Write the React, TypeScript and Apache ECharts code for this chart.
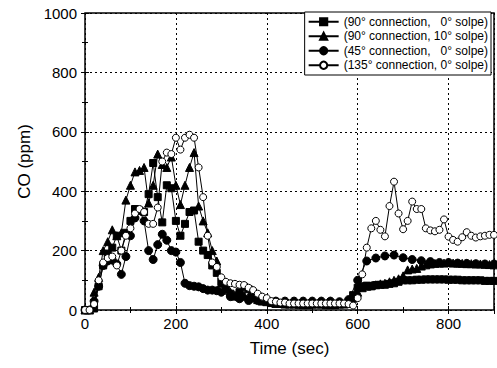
import React, { useEffect, useRef } from "react";
import * as echarts from "echarts";

const seriesNames = [
  "(90° connection, \u00a0 0° solpe)",
  "(90° connection, 10° solpe)",
  "(45° connection, \u00a0 0° solpe)",
  "(135° connection, 0° solpe)",
];

// time axis (sec), 10 s step
const times10 = Array.from({ length: 91 }, (_, i) => i * 10);

const sq90_0 = [
  0, 0, 5, 80, 150, 190, 210, 250, 200, 260,
  300, 340, 335, 330, 390, 495, 380, 295, 420, 410,
  300, 250, 290, 330, 335, 230, 200, 185, 150, 125,
  95, 70, 55, 45, 60, 78, 70, 55, 45, 35,
  30, 25, 25, 22, 20, 20, 20, 18, 18, 20,
  20, 20, 20, 20, 18, 18, 20, 20, 22, 50,
  75, 80, 82, 80, 84, 85, 85, 88, 90, 95,
  100, 100, 100, 102, 102, 103, 103, 103, 103, 103,
  102, 102, 102, 100, 100, 100, 100, 100, 98, 98,
  98,
];

const tri90_10 = [
  0, 0, 60, 110, 200, 230, 270, 250, 260, 370,
  420, 465, 470, 480, 360, 420, 525, 490, 480, 515,
  420, 355, 420, 480, 530, 350, 300, 260, 200, 165,
  90, 70, 60, 50, 45, 50, 45, 40, 35, 30,
  28, 25, 22, 22, 20, 20, 20, 20, 18, 18,
  20, 20, 20, 18, 18, 18, 20, 20, 22, 40,
  60, 75, 80, 82, 85, 88, 90, 95, 100, 105,
  115, 135, 138, 140, 148, 152, 155, 157, 158, 158,
  160, 158, 158, 157, 156, 156, 155, 155, 154, 153,
  152,
];

const times45 = [
  0, 10, 20, 30, 40, 50, 60, 70, 80, 90,
  100, 110, 120, 130, 140, 150, 160, 170, 180, 190,
  200, 210, 220, 230, 240, 250, 260, 270, 280, 290,
  300, 320, 340, 360, 380, 400, 420, 440, 460, 480,
  500, 520, 540, 560, 580, 600, 620, 640, 660, 680,
  700, 720, 740, 760, 780, 800, 820, 840, 860, 880,
  900,
];
const circ45_0 = [
  0, 0, 30, 80, 150, 165, 168, 155, 120, 180,
  250, 310, 335, 300, 200, 170, 220, 255, 235, 200,
  195, 160, 90, 82, 80, 78, 72, 67, 67, 65,
  60, 45, 38, 32, 32, 32, 30, 30, 30, 30,
  30, 30, 30, 28, 35, 100, 165, 175, 182, 185,
  176, 170, 166, 163, 160, 160, 158, 157, 156, 155,
  155,
];

const open135_0 = [
  0, 0, 20, 100, 160, 175, 180, 150, 200, 250,
  275, 325, 340, 330, 290, 290, 345, 500, 530, 525,
  580, 540, 580, 590, 580, 480, 380, 250, 160, 145,
  110, 95, 90, 88, 85, 84, 75, 67, 55, 45,
  40, 30, 28, 25, 25, 22, 22, 22, 22, 22,
  22, 22, 22, 22, 22, 22, 22, 22, 20, 15,
  40, 120, 210, 275, 300, 270, 248, 350, 432, 325,
  272, 300, 365, 340, 340, 275, 268, 265, 270, 305,
  247, 236, 230, 245, 262, 250, 244, 248, 250, 253,
  253,
];

const xTicksMax = 900;
const yTicksMax = 1000;

const pairs = (t: number[], v: number[]) => v.map((y, i) => [t[i], y]);

export default function App() {
  const ref = useRef<HTMLDivElement>(null);
  useEffect(() => {
    if (!ref.current) return;
    const chart = echarts.init(ref.current, null, { renderer: "svg" });
    const font = "'Liberation Sans', Arial, sans-serif";
    const common = {
      type: "line" as const,
      lineStyle: { color: "#000", width: 1 },
      itemStyle: { color: "#000", borderColor: "#000", borderWidth: 1 },
      showSymbol: true,
      emphasis: { disabled: true },
    };
    const tick = { show: true, inside: true, length: 4, lineStyle: { color: "#000" } };
    const minor = { show: true, splitNumber: 2, length: 3, lineStyle: { color: "#000" } };
    chart.setOption({
      animation: false,
      backgroundColor: "#fff",
      textStyle: { fontFamily: font },
      grid: {
        left: 85,
        right: 3,
        top: 13,
        bottom: 58,
        show: true,
        borderColor: "#000",
        borderWidth: 1.5,
        backgroundColor: "transparent",
      },
      legend: {
        orient: "vertical",
        right: 6,
        top: 12,
        padding: [3, 3, 3, 3],
        itemGap: 1,
        itemWidth: 30,
        itemHeight: 9,
        borderColor: "#000",
        borderWidth: 1,
        backgroundColor: "#fff",
        textStyle: { fontSize: 12, lineHeight: 13.5, color: "#000", fontFamily: font },
        data: seriesNames,
      },
      xAxis: [
        {
          type: "value",
          min: 0,
          max: xTicksMax,
          interval: 200,
          name: "Time (sec)",
          nameLocation: "middle",
          nameGap: 30,
          nameTextStyle: { fontSize: 17, color: "#000", fontFamily: font },
          axisLine: { show: false },
          axisTick: tick,
          minorTick: minor,
          axisLabel: { fontSize: 15, color: "#000", showMaxLabel: false, margin: 6 },
          splitLine: { show: true, lineStyle: { color: "#000", type: [2, 3], width: 1 } },
        },
        {
          type: "value",
          position: "top",
          min: 0,
          max: xTicksMax,
          interval: 200,
          axisLine: { show: false },
          axisTick: tick,
          minorTick: minor,
          axisLabel: { show: false },
          splitLine: { show: false },
        },
      ],
      yAxis: [
        {
          type: "value",
          min: 0,
          max: yTicksMax,
          interval: 200,
          name: "CO (ppm)",
          nameLocation: "middle",
          nameGap: 43,
          nameRotate: 90,
          nameTextStyle: { fontSize: 17, color: "#000", fontFamily: font },
          axisLine: { show: false },
          axisTick: tick,
          minorTick: minor,
          axisLabel: { fontSize: 15, color: "#000", margin: 8, formatter: (v: number) => String(v) },
          splitLine: { show: true, lineStyle: { color: "#000", type: [2, 3], width: 1 } },
        },
        {
          type: "value",
          position: "right",
          min: 0,
          max: yTicksMax,
          interval: 200,
          axisLine: { show: false },
          axisTick: tick,
          minorTick: minor,
          axisLabel: { show: false },
          splitLine: { show: false },
        },
      ],
      series: [
        { ...common, name: seriesNames[0], symbol: "rect", symbolSize: 7, data: pairs(times10, sq90_0) },
        { ...common, name: seriesNames[1], symbol: "triangle", symbolSize: 8, data: pairs(times10, tri90_10) },
        { ...common, name: seriesNames[2], symbol: "circle", symbolSize: 8, data: pairs(times45, circ45_0) },
        {
          ...common,
          name: seriesNames[3],
          symbol: "circle",
          symbolSize: 7,
          itemStyle: { color: "#fff", borderColor: "#000", borderWidth: 1 },
          data: pairs(times10, open135_0),
        },
      ],
    });
    return () => chart.dispose();
  }, []);
  return <div ref={ref} style={{ width: 497, height: 368, position: "absolute", left: 0, top: 0 }} />;
}
